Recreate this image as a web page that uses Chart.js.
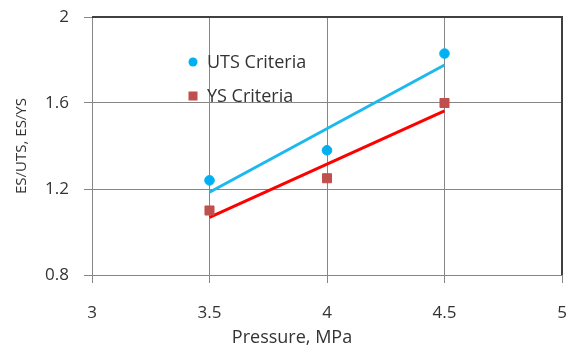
<!DOCTYPE html>
<html>
<head>
<meta charset="utf-8">
<script src="https://cdn.jsdelivr.net/npm/chart.js@4"></script>
<style>
html,body{margin:0;padding:0;background:#fff;}
#wrap{width:571px;height:349px;}
</style>
</head>
<body>
<div id="wrap"><canvas id="c" width="571" height="349"></canvas></div>
<script>
const pressures = [3.5, 4, 4.5];
const utsValues = [1.24, 1.38, 1.83];
const ysValues = [1.10, 1.25, 1.60];
const trendX = [3.5, 4.5];
const utsTrend = [1.185, 1.777];
const ysTrend = [1.068, 1.563];
const xTicks = [3, 3.5, 4, 4.5, 5];
const yTicks = [0.8, 1.2, 1.6, 2];
const seriesNames = ['UTS Criteria', 'YS Criteria'];
const xTitle = 'Pressure, MPa';
const yTitle = 'ES/UTS, ES/YS';

const FONT = '"Open Sans", sans-serif';
const TEXT = '#333333';
const pts = (xs, ys) => xs.map((x, i) => ({x: x, y: ys[i]}));

const frame = {
  id: 'frame',
  afterDraw(chart) {
    const {ctx, chartArea: a} = chart;
    ctx.save();
    ctx.strokeStyle = '#404040';
    ctx.lineWidth = 2;
    ctx.beginPath();
    ctx.moveTo(a.left, a.top);
    ctx.lineTo(a.right, a.top);
    ctx.lineTo(a.right, a.bottom);
    ctx.stroke();
    // legend
    const items = [
      {name: seriesNames[0], color: '#00B0F0', style: 'circle', y: 62},
      {name: seriesNames[1], color: '#C0504D', style: 'rect', y: 96}
    ];
    ctx.font = '18px ' + FONT;
    ctx.textBaseline = 'middle';
    ctx.textAlign = 'left';
    items.forEach(it => {
      ctx.fillStyle = it.color;
      if (it.style === 'circle') {
        ctx.beginPath(); ctx.arc(193, it.y, 4.5, 0, Math.PI * 2); ctx.fill();
      } else {
        ctx.fillRect(188.5, it.y - 4.5, 9, 9);
      }
      ctx.fillStyle = TEXT;
      ctx.fillText(it.name, 207, it.y + 1);
    });
    // x axis title (offset left of plot centre, as in the original)
    ctx.font = '18px ' + FONT;
    ctx.textAlign = 'center';
    ctx.fillText(xTitle, 292, 338);
    ctx.restore();
  }
};

new Chart(document.getElementById('c'), {
  type: 'scatter',
  data: {
    datasets: [
      {label: seriesNames[0], data: pts(pressures, utsValues), backgroundColor: '#00B0F0', borderColor: '#00B0F0', pointStyle: 'circle', pointRadius: 4.8, order: 1},
      {label: seriesNames[1], data: pts(pressures, ysValues), backgroundColor: '#C0504D', borderColor: '#C0504D', pointStyle: 'rect', pointRadius: 6.4, order: 1},
      {label: 'UTS trend', data: pts(trendX, utsTrend), showLine: true, borderColor: '#1CB8EE', borderWidth: 3, pointRadius: 0, order: 2},
      {label: 'YS trend', data: pts(trendX, ysTrend), showLine: true, borderColor: '#FF0000', borderWidth: 3, pointRadius: 0, order: 2}
    ]
  },
  options: {
    responsive: false,
    animation: false,
    layout: {autoPadding: false, padding: {top: 17, right: 9, left: 0, bottom: 0}},
    plugins: {legend: {display: false}, tooltip: {enabled: false}},
    scales: {
      x: {
        type: 'linear', min: 3, max: 5,
        afterBuildTicks: s => { s.ticks = xTicks.map(v => ({value: v})); },
        afterFit: s => { s.height = 74; s.paddingLeft = 0; s.paddingRight = 0; s.paddingTop = 0; s.paddingBottom = 0; },
        grid: {color: '#868686', lineWidth: 1, tickLength: 8, drawTicks: true},
        border: {color: '#868686', width: 1},
        ticks: {color: TEXT, font: {family: FONT, size: 17}, padding: 20, maxRotation: 0, callback: v => String(v)},
        title: {display: false}
      },
      y: {
        type: 'linear', min: 0.8, max: 2,
        afterBuildTicks: s => { s.ticks = yTicks.map(v => ({value: v})); },
        afterFit: s => { s.width = 92; s.paddingLeft = 0; s.paddingRight = 0; s.paddingTop = 0; s.paddingBottom = 0; },
        grid: {color: '#868686', lineWidth: 1, tickLength: 8, drawTicks: true},
        border: {color: '#868686', width: 1},
        ticks: {color: TEXT, font: {family: FONT, size: 17}, padding: 15, callback: v => String(v)},
        title: {display: true, text: yTitle, color: TEXT, font: {family: FONT, size: 15}, padding: {top: 13, bottom: 0}}
      }
    }
  },
  plugins: [frame]
});
</script>
</body>
</html>
